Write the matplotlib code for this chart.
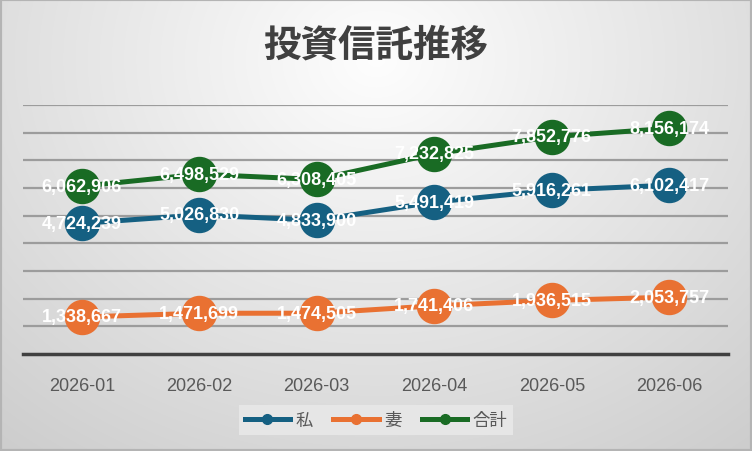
import numpy as np
import matplotlib
matplotlib.use("Agg")
import matplotlib.pyplot as plt
from matplotlib.lines import Line2D
from matplotlib.patches import Rectangle

plt.rcParams['font.family'] = ['Liberation Sans', 'Noto Sans CJK JP', 'DejaVu Sans']

months = ["2026-01", "2026-02", "2026-03", "2026-04", "2026-05", "2026-06"]
watashi = [4724239, 5026830, 4833900, 5491419, 5916261, 6102417]
tsuma = [1338667, 1471699, 1474505, 1741406, 1936515, 2053757]
goukei = [6062906, 6498529, 6308405, 7232825, 7852776, 8156174]

series = [("私", watashi, "#156082"), ("妻", tsuma, "#E97132"), ("合計", goukei, "#196B24")]

W, H = 752, 452
fig = plt.figure(figsize=(W / 100, H / 100), dpi=100)

# radial gradient background
bg = fig.add_axes([0, 0, 1, 1], zorder=-10)
yy, xx = np.mgrid[0:H, 0:W]
d = np.sqrt(((xx - 376) / 450.0) ** 2 + ((yy - 60) / 380.0) ** 2)
shade = np.clip(0.995 - 0.145 * d, 0.78, 1.0)
bg.imshow(np.dstack([shade] * 3), extent=[0, 1, 0, 1], aspect="auto", origin="upper")
bg.add_patch(Rectangle((0, 0), 1, 1, transform=bg.transAxes, fill=False,
                       edgecolor="#b4b4b4", lw=3))
bg.set_axis_off()

ax = fig.add_axes([23 / W, 1 - 355 / H, (728 - 23) / W, (355 - 106) / H])
ax.set_facecolor("none")
x = np.arange(len(months))
for name, vals, col in series:
    ax.plot(x, vals, color=col, lw=3.6, marker="o", markersize=24.5,
            solid_capstyle="round", zorder=3)
    for xi, v in zip(x, vals):
        ax.text(xi, v, f"{v:,}", ha="center", va="center", color="white",
                fontsize=13, fontweight="bold", zorder=5)

ax.set_xlim(-0.5, len(months) - 0.5)
ax.set_ylim(0, 9000000)
ax.set_yticks(np.arange(1000000, 9000001, 1000000))
ax.yaxis.grid(True, color="#9c9c9c", lw=1.6)
ax.set_axisbelow(True)
ax.tick_params(axis="y", left=False, labelleft=False)
ax.tick_params(axis="x", bottom=False, labelsize=13, labelcolor="#595959", pad=13)
ax.set_xticks(x)
ax.set_xticklabels(months)
for s in ["left", "right", "top"]:
    ax.spines[s].set_visible(False)
ax.spines["bottom"].set_color("#404040")
ax.spines["bottom"].set_linewidth(2.5)

fig.text(0.5, 1 - 45 / H, "投資信託推移", ha="center", va="center",
         fontsize=27, fontweight="bold", color="#404040",
         family=["Noto Sans CJK JP", "DejaVu Sans"])

handles = [Line2D([], [], color=c, lw=3.6, marker="o", markersize=7) for _, _, c in series]
leg = fig.legend(handles, [n for n, _, _ in series], loc="center",
                 bbox_to_anchor=(376 / W, 1 - 421 / H), ncol=3, frameon=True,
                 handlelength=2.6, columnspacing=1.2, handletextpad=0.3,
                 borderpad=0.35, fancybox=False,
                 prop={"family": ["Noto Sans CJK JP", "DejaVu Sans"], "size": 12.5})
leg.get_frame().set_facecolor("#e6e6e6")
leg.get_frame().set_edgecolor("none")
leg.get_frame().set_alpha(1)
for t in leg.get_texts():
    t.set_color("#595959")

fig.savefig("out.png", dpi=100)
